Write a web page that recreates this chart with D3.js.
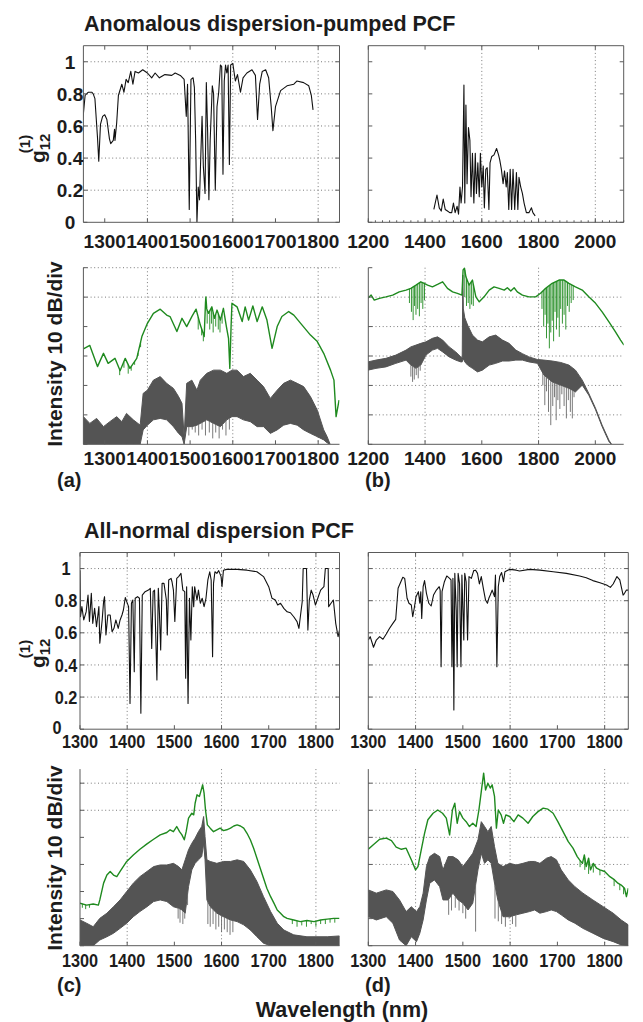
<!DOCTYPE html>
<html><head><meta charset="utf-8">
<script src="https://cdn.jsdelivr.net/npm/d3@7"></script>
<style>body{margin:0;background:#fff}</style>
</head><body><svg id="c" width="643" height="1022"></svg>
<script>
// ===================== DATA =====================
const titles = ["Anomalous dispersion-pumped PCF", "All-normal dispersion PCF"];
const panelLetters = ["(a)", "(b)", "(c)", "(d)"];
const yLabelSpec = "Intensity 10 dB/div";
const xLabel = "Wavelength (nm)";

const ticksA = [1300,1400,1500,1600,1700,1800];
const ticksB = [1200,1400,1600,1800,2000];
const ticksCD = [1300,1400,1500,1600,1700,1800];
const gTicks = [0,0.2,0.4,0.6,0.8,1];
const gTickLabels = ["0","0.2","0.4","0.6","0.8","1"];
const dbTicks = [-60,-50,-40,-30,-20,-10,0];

// g12 coherence, panel (a)
const gA = [[1248,0.62],[1254,0.79],[1261,0.81],[1270,0.81],[1273,0.80],[1277,0.77],[1283,0.53],[1286,0.38],[1290,0.61],[1295,0.66],[1300,0.67],[1305,0.64],[1311,0.52],[1314,0.49],[1320,0.51],[1323,0.58],[1324,0.51],[1328,0.62],[1332,0.79],[1340,0.86],[1345,0.81],[1350,0.89],[1355,0.87],[1361,0.94],[1366,0.86],[1371,0.94],[1379,0.93],[1389,0.95],[1400,0.93],[1410,0.90],[1418,0.93],[1428,0.90],[1441,0.92],[1457,0.915],[1465,0.93],[1477,0.915],[1486,0.89],[1491,0.66],[1494,0.86],[1498,0.08],[1502,0.89],[1507,0.90],[1510,0.84],[1513,0.51],[1516,0.0],[1519,0.22],[1522,0.14],[1525,0.41],[1528,0.66],[1531,0.35],[1535,0.18],[1538,0.87],[1541,0.57],[1544,0.14],[1547,0.51],[1552,0.85],[1555,0.80],[1559,0.20],[1563,0.72],[1567,0.81],[1571,0.98],[1574,0.97],[1577,0.30],[1580,0.88],[1583,0.98],[1586,0.93],[1589,0.98],[1592,0.36],[1595,0.98],[1600,0.99],[1606,0.88],[1611,0.92],[1618,0.81],[1624,0.90],[1633,0.93],[1645,0.95],[1653,0.915],[1658,0.64],[1663,0.86],[1669,0.94],[1677,0.95],[1684,0.90],[1690,0.72],[1694,0.57],[1700,0.72],[1712,0.82],[1727,0.85],[1743,0.86],[1750,0.88],[1766,0.87],[1778,0.85],[1784,0.79],[1788,0.70]];
// panel (b)
const gB = [[1431,0.08],[1442,0.17],[1450,0.09],[1457,0.07],[1464,0.145],[1471,0.08],[1479,0.07],[1487,0.06],[1494,0.06],[1500,0.12],[1506,0.06],[1513,0.10],[1518,0.05],[1523,0.22],[1527,0.12],[1532,0.22],[1537,0.855],[1540,0.12],[1544,0.73],[1548,0.24],[1553,0.59],[1558,0.51],[1562,0.16],[1567,0.43],[1572,0.12],[1577,0.43],[1581,0.18],[1586,0.37],[1591,0.16],[1595,0.43],[1600,0.22],[1605,0.35],[1609,0.09],[1614,0.33],[1619,0.34],[1625,0.08],[1629,0.37],[1635,0.41],[1643,0.42],[1652,0.46],[1659,0.42],[1663,0.39],[1669,0.33],[1675,0.24],[1680,0.32],[1686,0.22],[1690,0.31],[1695,0.08],[1700,0.33],[1705,0.08],[1710,0.33],[1716,0.08],[1722,0.31],[1727,0.08],[1731,0.28],[1737,0.22],[1743,0.18],[1749,0.12],[1757,0.06],[1766,0.06],[1775,0.09],[1780,0.06],[1788,0.04]];
// panel (c)
const gC = [[1300,0.99],[1301,0.70],[1304,0.763],[1308,0.68],[1313,0.73],[1317,0.835],[1320,0.67],[1324,0.846],[1327,0.659],[1331,0.752],[1335,0.638],[1340,0.763],[1342,0.535],[1347,0.68],[1350,0.794],[1352,0.825],[1355,0.586],[1359,0.711],[1364,0.711],[1368,0.607],[1372,0.628],[1376,0.68],[1381,0.628],[1385,0.68],[1389,0.711],[1392,0.742],[1396,0.82],[1399,0.794],[1403,0.763],[1406,0.16],[1409,0.784],[1412,0.804],[1415,0.358],[1417,0.815],[1422,0.825],[1426,0.815],[1429,0.10],[1432,0.835],[1438,0.856],[1445,0.866],[1449,0.877],[1452,0.503],[1455,0.856],[1458,0.866],[1463,0.306],[1466,0.877],[1468,0.752],[1471,0.493],[1474,0.908],[1478,0.908],[1483,0.804],[1485,0.586],[1488,0.929],[1493,0.939],[1495,0.918],[1498,0.866],[1501,0.67],[1505,0.939],[1509,0.95],[1514,0.97],[1518,0.866],[1522,0.856],[1524,0.317],[1526,0.887],[1529,0.16],[1532,0.815],[1535,0.555],[1538,0.887],[1541,0.763],[1543,0.887],[1548,0.804],[1551,0.866],[1555,0.784],[1559,0.815],[1563,0.763],[1567,0.815],[1571,0.929],[1575,0.98],[1578,0.929],[1581,0.451],[1583,0.908],[1586,0.98],[1590,0.97],[1594,0.987],[1599,0.95],[1601,0.887],[1604,0.99],[1611,0.995],[1633,0.995],[1654,0.99],[1675,0.98],[1689,0.95],[1700,0.887],[1707,0.815],[1714,0.804],[1719,0.773],[1725,0.784],[1732,0.752],[1739,0.731],[1746,0.725],[1753,0.70],[1760,0.67],[1764,0.628],[1767,0.70],[1771,0.794],[1773,1.0],[1780,1.0],[1783,0.617],[1786,0.804],[1790,0.866],[1794,0.835],[1799,0.773],[1804,0.815],[1810,0.866],[1817,0.887],[1820,1.0],[1826,1.0],[1827,0.763],[1832,0.784],[1837,0.804],[1842,0.659],[1847,0.576],[1850,0.617]];
// panel (d)
const gD = [[1300,0.555],[1304,0.576],[1311,0.51],[1317,0.555],[1324,0.576],[1331,0.56],[1338,0.593],[1345,0.628],[1352,0.659],[1358,0.684],[1363,0.877],[1368,0.912],[1373,0.946],[1377,0.939],[1382,0.815],[1386,0.784],[1391,0.773],[1394,0.70],[1397,0.75],[1401,0.825],[1406,0.856],[1409,0.784],[1411,0.856],[1413,0.69],[1416,0.887],[1419,0.925],[1423,0.846],[1428,0.784],[1433,0.767],[1438,0.835],[1444,0.866],[1450,0.887],[1452,0.866],[1454,0.389],[1456,0.856],[1461,0.918],[1466,0.954],[1472,0.939],[1475,0.929],[1477,0.389],[1479,0.939],[1481,0.12],[1483,0.97],[1486,0.742],[1488,0.389],[1490,0.97],[1493,0.908],[1496,0.389],[1498,0.96],[1502,0.555],[1504,0.97],[1507,0.918],[1510,0.555],[1513,0.95],[1518,0.939],[1523,0.987],[1527,0.99],[1531,0.97],[1535,0.904],[1539,0.95],[1544,0.866],[1548,0.804],[1552,0.784],[1555,0.815],[1558,0.835],[1562,0.866],[1567,0.825],[1569,0.96],[1572,0.389],[1575,0.887],[1578,0.95],[1582,0.975],[1586,0.918],[1589,0.98],[1595,0.99],[1600,0.995],[1613,0.99],[1620,0.985],[1641,0.995],[1663,0.99],[1691,0.98],[1719,0.97],[1747,0.954],[1761,0.943],[1775,0.925],[1790,0.912],[1804,0.898],[1812,0.883],[1818,0.904],[1826,0.95],[1832,0.929],[1839,0.835],[1842,0.846],[1846,0.866],[1850,0.866]];

// spectra (dB): green = [nm, dB]; gray = [nm, upper dB, lower dB]; spikes = [nm, dB reached]
const aGreen = [[1250,-27.6],[1265,-26.4],[1283,-33.6],[1297,-29.1],[1308,-32.5],[1324,-30.8],[1336,-35.0],[1348,-30.8],[1359,-34.2],[1375,-30.8],[1387,-23.4],[1400,-18.9],[1414,-15.5],[1430,-14.1],[1445,-16.1],[1453,-16.6],[1469,-21.7],[1481,-17.2],[1492,-20.0],[1504,-16.6],[1514,-14.1],[1524,-19.5],[1533,-23.4],[1536,-12],[1537,-9.9],[1539,-14],[1543,-15.5],[1551,-13.3],[1557,-17.2],[1563,-14.4],[1571,-17.8],[1578,-13.8],[1585,-20.0],[1590,-24],[1593,-34.2],[1596,-20],[1598,-12.1],[1610,-13.3],[1622,-18.3],[1629,-13.3],[1637,-17.8],[1647,-13.0],[1657,-18.3],[1669,-13.3],[1680,-17.8],[1692,-27.4],[1704,-20.0],[1715,-16.6],[1731,-14.9],[1743,-16.1],[1759,-18.9],[1782,-22.9],[1798,-25.1],[1813,-29.1],[1829,-34.8],[1837,-38.2],[1842,-50.6],[1849,-45.0]];
const aGreenSpikes = [[1335,-36.5],[1345,-34],[1355,-36],[1362,-35],[1370,-33],[1378,-30],[1384,-27],[1519,-21],[1527,-23],[1531,-25],[1540,-19],[1546,-21],[1550,-19],[1554,-22],[1560,-20],[1566,-21],[1570,-22],[1575,-19]];
const aGray = [[1250,-50.6,-60],[1265,-52.9,-60],[1281,-51.2,-60],[1297,-54.0,-60],[1312,-52.3,-60],[1328,-50.6,-60],[1340,-52.3,-60],[1351,-49.5,-60],[1367,-51.7,-60],[1383,-53.5,-60],[1390,-42.7,-55.1],[1400,-41.6,-53.5],[1414,-38.2,-51.7],[1430,-37.0,-51.2],[1445,-39.3,-51.7],[1461,-41.0,-54.0],[1473,-43.8,-56.3],[1481,-46.1,-57.4],[1486,-57.4,-60],[1492,-39.3,-54.0],[1504,-38.2,-54.0],[1516,-41.6,-53.5],[1524,-38.2,-52.9],[1539,-35.9,-51.7],[1555,-34.8,-52.9],[1571,-34.8,-54.0],[1586,-35.9,-51.7],[1598,-34.8,-50.6],[1610,-34.8,-50.6],[1625,-37.0,-51.7],[1641,-35.9,-52.3],[1657,-38.2,-54.0],[1672,-40.4,-54.0],[1688,-44.4,-56.3],[1704,-41.6,-55.1],[1719,-39.3,-53.5],[1735,-38.2,-52.9],[1751,-39.3,-53.5],[1766,-40.4,-55.1],[1782,-43.8,-56.3],[1798,-48.4,-57.4],[1813,-55.1,-58.5],[1821,-57.4,-59.5],[1828,-60,-60]];
const aGraySpikes = [[1497,-57],[1505,-55],[1512,-56],[1520,-57],[1528,-55],[1536,-57],[1545,-56],[1553,-58],[1560,-56],[1568,-58],[1576,-55],[1584,-57],[1592,-55]];

const bGreen = [[1199,-10.4],[1210,-9.3],[1221,-11.0],[1239,-10.4],[1262,-9.9],[1286,-9.3],[1309,-8.2],[1333,-7.6],[1350,-7.0],[1368,-5.9],[1385,-4.8],[1397,-5.3],[1409,-5.9],[1426,-6.5],[1444,-5.7],[1462,-4.8],[1479,-7.0],[1497,-8.2],[1514,-8.7],[1530,-9.3],[1534,-0.8],[1539,-0.2],[1544,-3.1],[1555,-5.9],[1567,-4.2],[1579,-9.9],[1591,-11.6],[1608,-9.9],[1626,-7.6],[1643,-6.5],[1661,-7.0],[1679,-7.6],[1690,-6.8],[1702,-7.9],[1714,-6.8],[1725,-8.2],[1743,-9.3],[1766,-9.9],[1790,-9.9],[1807,-8.7],[1825,-7.0],[1848,-5.3],[1872,-4.2],[1890,-4.2],[1907,-5.3],[1930,-6.5],[1954,-7.6],[1977,-9.9],[2001,-12.1],[2024,-15.0],[2048,-18.4],[2071,-21.8],[2089,-24.6],[2101,-26.3]];
const bGreenSpikes = [[1345,-12],[1352,-15],[1358,-17.8],[1363,-13],[1368,-16],[1374,-14],[1380,-16.5],[1386,-12],[1392,-14],[1398,-11],[1540,-10],[1546,-13],[1552,-12],[1558,-14],[1564,-12.5],[1570,-13],[1812,-14],[1818,-20],[1823,-16],[1828,-24],[1833,-19],[1838,-27.4],[1843,-22],[1848,-18],[1853,-25],[1858,-15],[1863,-21],[1868,-17],[1873,-23.5],[1878,-14],[1884,-19],[1890,-16],[1896,-21],[1902,-13],[1908,-15],[1915,-12],[1922,-11]];
const bGray = [[1199,-32.0,-34.8],[1227,-31.4,-34.2],[1262,-30.8,-33.7],[1297,-29.7,-32.5],[1333,-28.0,-31.4],[1350,-26.9,-33.1],[1368,-26.3,-34.2],[1385,-25.7,-33.1],[1403,-25.2,-29.7],[1426,-24.0,-28.0],[1444,-23.5,-27.4],[1462,-24.6,-28.6],[1485,-26.9,-30.3],[1508,-28.6,-31.4],[1526,-30.3,-32.0],[1531,-30.5,-32],[1533,-2.5,-31],[1535,-14,-31],[1540,-17,-32],[1550,-19.5,-33.1],[1567,-22.9,-34.2],[1585,-24.6,-35.4],[1602,-25.2,-34.8],[1626,-23.5,-33.1],[1649,-22.9,-32.5],[1673,-24.6,-31.7],[1696,-25.7,-31.7],[1720,-28.0,-31.4],[1743,-29.2,-31.4],[1766,-30.3,-32.0],[1796,-31.2,-32.5],[1819,-31.4,-36.5],[1848,-31.7,-38.8],[1878,-32.2,-39.9],[1907,-33.1,-41.0],[1930,-34.8,-42.2],[1954,-38.2,-39.9],[1977,-42.7,-43.3],[2001,-47.8,-48.3],[2024,-53.5,-54],[2048,-58.6,-59.1],[2057,-60,-60]];
const bGraySpikes = [[1350,-37],[1356,-38.8],[1362,-38],[1369,-36.5],[1376,-37.6],[1383,-35],[1815,-40],[1822,-46.7],[1828,-42],[1835,-49],[1843,-53.5],[1850,-47],[1856,-44],[1862,-51.8],[1868,-45],[1875,-48],[1882,-43],[1890,-47],[1898,-51.2],[1905,-45],[1912,-49],[1919,-51.2],[1925,-44]];

const cGreen = [[1300,-44.3],[1314,-45.0],[1328,-44.6],[1339,-45.0],[1342,-43.1],[1350,-36.9],[1357,-33.9],[1364,-32.6],[1371,-33.9],[1378,-34.5],[1385,-32.6],[1399,-28.9],[1413,-26.5],[1427,-24.4],[1442,-22.4],[1456,-20.7],[1470,-19.1],[1484,-18.2],[1491,-17.2],[1498,-17.9],[1505,-16.0],[1511,-17.9],[1516,-19.1],[1521,-20.9],[1525,-17.9],[1530,-12.9],[1537,-11.1],[1541,-11.7],[1544,-7.4],[1548,-4.3],[1553,-4.9],[1556,-3.1],[1560,-0.6],[1563,-3.7],[1566,-9.9],[1570,-15.4],[1576,-16.6],[1583,-17.9],[1590,-17.2],[1597,-16.6],[1604,-17.5],[1611,-17.2],[1619,-16.6],[1626,-15.8],[1633,-15.4],[1640,-15.8],[1647,-16.6],[1654,-18.5],[1661,-20.9],[1668,-24.0],[1675,-27.7],[1682,-31.4],[1689,-35.1],[1696,-38.8],[1704,-41.9],[1711,-44.3],[1718,-46.8],[1725,-48.0],[1732,-49.3],[1739,-49.9],[1753,-50.5],[1767,-51.1],[1781,-50.7],[1796,-51.1],[1810,-50.5],[1824,-50.2],[1838,-49.9],[1850,-49.9]];
const cGreenSpikes = [[1305,-46],[1312,-46.5],[1320,-46],[1750,-52],[1760,-53],[1770,-52.5],[1780,-53],[1790,-52],[1800,-53],[1810,-52],[1820,-52],[1830,-51.5],[1840,-51.5]];
const cGray = [[1300,-50.5,-60],[1314,-51.7,-60],[1328,-53.0,-60],[1342,-49.9,-57.9],[1357,-48.0,-56.7],[1371,-45.6,-55.4],[1385,-43.1,-53.6],[1399,-40.0,-51.7],[1413,-36.9,-49.3],[1427,-34.5,-47.4],[1442,-32.6,-45.6],[1456,-30.8,-43.7],[1470,-30.2,-43.1],[1484,-30.2,-43.7],[1498,-29.6,-45.6],[1509,-30.8,-46.2],[1516,-32.0,-46.8],[1523,-28.3,-48.0],[1530,-24.6,-38.2],[1537,-22.2,-32.0],[1544,-20.3,-29.6],[1551,-17.9,-28.3],[1558,-16.0,-27.1],[1562,-12.3,-22.2],[1565,-19.7,-28.3],[1569,-28.3,-43.1],[1576,-28.9,-45.6],[1590,-29.6,-48.0],[1604,-28.9,-49.3],[1619,-28.9,-50.5],[1633,-28.3,-51.1],[1647,-28.9,-52.3],[1661,-32.0,-54.2],[1675,-36.3,-56.7],[1689,-41.9,-59.1],[1704,-47.4,-60],[1718,-51.7,-60],[1732,-54.2,-60],[1753,-56.0,-60],[1781,-56.7,-60],[1824,-56.7,-60],[1850,-56.4,-60]];
const cGraySpikes = [[1508,-50],[1512,-51.5],[1518,-52],[1522,-50],[1528,-45],[1571,-52],[1576,-53],[1582,-52],[1588,-54],[1594,-53],[1600,-55],[1606,-54],[1612,-55],[1618,-56],[1624,-55]];

const dGreen = [[1300,-24.4],[1310,-22.8],[1324,-20.7],[1338,-20.3],[1349,-21.2],[1359,-23.6],[1370,-24.4],[1380,-24.0],[1391,-28.3],[1400,-32.0],[1405,-30.8],[1412,-24.6],[1419,-18.5],[1426,-13.5],[1437,-11.1],[1447,-9.9],[1457,-11.1],[1465,-12.9],[1472,-19.1],[1478,-9.9],[1483,-7.4],[1488,-14.8],[1493,-10.5],[1500,-12.9],[1507,-14.2],[1514,-16.0],[1521,-14.8],[1528,-16.0],[1534,-9.9],[1539,-3.1],[1544,3.7],[1548,-2.5],[1553,0],[1558,-1.8],[1562,-0.6],[1567,-4.9],[1571,-16.6],[1575,-9.9],[1581,-11.7],[1586,-14.8],[1591,-11.7],[1599,-12.3],[1608,-14.2],[1617,-11.7],[1627,-12.9],[1638,-14.8],[1648,-12.3],[1659,-10.5],[1670,-9.2],[1680,-9.6],[1691,-11.1],[1701,-14.2],[1712,-17.9],[1723,-21.6],[1733,-24.0],[1742,-27.1],[1747,-28.3],[1753,-29.6],[1757,-26.5],[1761,-30.8],[1766,-27.7],[1770,-32.0],[1776,-29.6],[1783,-31.4],[1790,-32.0],[1800,-32.6],[1811,-34.5],[1821,-35.7],[1828,-36.9],[1835,-37.6],[1842,-38.8],[1846,-41.9],[1850,-38.8]];
const dGreenSpikes = [[1748,-31],[1758,-32],[1766,-33.5],[1776,-33],[1790,-34],[1820,-38],[1832,-39.5],[1840,-41]];
const dGray = [[1300,-39.4,-49.3],[1317,-40.6,-50.5],[1338,-39.4,-49.3],[1352,-40.0,-51.7],[1366,-43.1,-57.9],[1380,-47.4,-60],[1391,-45.6,-56.7],[1402,-47.4,-58.5],[1409,-45.6,-55.4],[1416,-40.6,-50.5],[1423,-30.8,-43.1],[1430,-27.1,-36.9],[1440,-25.9,-35.7],[1451,-27.1,-38.2],[1458,-32.0,-43.1],[1469,-27.1,-43.1],[1479,-27.1,-40.6],[1490,-28.3,-43.1],[1500,-30.8,-44.3],[1511,-28.3,-46.8],[1521,-25.9,-44.3],[1532,-20.9,-32.0],[1539,-14.2,-25.9],[1546,-16.0,-29.6],[1553,-17.9,-28.3],[1560,-16.0,-29.6],[1567,-23.4,-36.9],[1574,-29.6,-43.1],[1585,-30.8,-49.3],[1599,-29.6,-49.3],[1613,-30.2,-48.6],[1627,-29.6,-48.0],[1641,-28.9,-47.4],[1652,-28.9,-46.8],[1663,-29.6,-48.0],[1677,-27.7,-47.4],[1687,-27.1,-46.8],[1698,-28.3,-47.4],[1708,-32.0,-48.6],[1723,-35.7,-50.5],[1737,-38.2,-51.7],[1754,-40.6,-53.6],[1775,-43.1,-55.4],[1797,-45.6,-57.3],[1818,-48.0,-58.5],[1835,-50.5,-59.7],[1850,-52.3,-60]];
const dGraySpikes = [[1470,-48.6],[1476,-47],[1484,-46],[1492,-47],[1500,-48],[1506,-50],[1527,-54.8],[1568,-50],[1575,-51],[1582,-52],[1590,-53],[1598,-50],[1605,-52],[1612,-53]];

// ===================== DRAWING =====================
const FONT = "'Liberation Sans', Arial, Helvetica, sans-serif";
const TXT = "#1c1c1c";
const AX = "#5a5a5a";
const GRID = "#7a7a7a";
const GREEN = "#1f8a1f";
const GRAY = "#545454";
const svg = d3.select("#c");
let clipN = 0;

function interp(arr, nm, idx) {
  const bis = d3.bisector(d => d[0]).left;
  let i = bis(arr, nm);
  if (i <= 0) return arr[0][idx];
  if (i >= arr.length) return arr[arr.length-1][idx];
  const a = arr[i-1], b = arr[i];
  const t = (nm - a[0]) / (b[0] - a[0]);
  return a[idx] + t * (b[idx] - a[idx]);
}

function squeeze(sel, f) {
  sel.each(function(){ const L = this.getComputedTextLength(); d3.select(this).attr("textLength", L*f).attr("lengthAdjust","spacingAndGlyphs"); });
}

function panel(cfg) {
  const r = cfg.rect;
  const x = d3.scaleLinear().domain(cfg.xdom).range([r.x0, r.x1]);
  const y = d3.scaleLinear().domain(cfg.ydom).range([r.y1, r.y0]);
  const g = svg.append("g");
  const id = "clip" + (clipN++);
  svg.append("clipPath").attr("id", id).append("rect")
    .attr("x", r.x0).attr("y", r.y0 - 6).attr("width", r.x1 - r.x0).attr("height", r.y1 - r.y0 + 6);
  g.selectAll(".vg").data(cfg.vgrid || []).join("line")
    .attr("x1", d => x(d)).attr("x2", d => x(d)).attr("y1", r.y0).attr("y2", r.y1)
    .attr("stroke", GRID).attr("stroke-width", 1).attr("stroke-dasharray", "1,2.6");
  g.selectAll(".hg").data(cfg.hgrid || []).join("line")
    .attr("x1", r.x0).attr("x2", r.x1).attr("y1", d => y(d)).attr("y2", d => y(d))
    .attr("stroke", GRID).attr("stroke-width", 1).attr("stroke-dasharray", "1,2.6");
  const dg = g.append("g").attr("clip-path", `url(#${id})`);
  cfg.draw(dg, x, y);
  const ax = g.append("g").attr("fill", "none").attr("stroke", AX).attr("stroke-width", 1);
  ax.append("line").attr("x1", r.x0).attr("x2", r.x1).attr("y1", r.y1).attr("y2", r.y1);
  ax.append("line").attr("x1", r.x0).attr("x2", r.x0).attr("y1", r.y0).attr("y2", r.y1);
  if (cfg.box) {
    ax.append("line").attr("x1", r.x0).attr("x2", r.x1).attr("y1", r.y0).attr("y2", r.y0);
    ax.append("line").attr("x1", r.x1).attr("x2", r.x1).attr("y1", r.y0).attr("y2", r.y1);
  }
  const tl = 4;
  cfg.xticks.forEach(v => {
    ax.append("line").attr("x1", x(v)).attr("x2", x(v)).attr("y1", r.y1).attr("y2", r.y1 - tl);
    if (cfg.box) ax.append("line").attr("x1", x(v)).attr("x2", x(v)).attr("y1", r.y0).attr("y2", r.y0 + tl);
  });
  (cfg.minor || []).forEach(v => {
    ax.append("line").attr("x1", x(v)).attr("x2", x(v)).attr("y1", r.y1).attr("y2", r.y1 - 2);
  });
  cfg.yticks.forEach(v => {
    ax.append("line").attr("x1", r.x0).attr("x2", r.x0 + tl).attr("y1", y(v)).attr("y2", y(v));
    if (cfg.box) ax.append("line").attr("x1", r.x1).attr("x2", r.x1 - tl).attr("y1", y(v)).attr("y2", y(v));
  });
  const xl = g.selectAll(".xl").data(cfg.xticks).join("text")
    .attr("x", d => x(d)).attr("y", r.y1 + cfg.labOff)
    .attr("text-anchor", "middle").attr("font-family", FONT).attr("font-weight", "bold")
    .attr("font-size", cfg.fs).attr("fill", TXT).text(d => d);
  if (cfg.sq) squeeze(xl, cfg.sq);
  if (cfg.ylabels) {
    const yl = g.selectAll(".yl").data(cfg.yticks).join("text")
      .attr("x", d => cfg.ylabX - (d === 0 ? (cfg.zeroShift || 0) : 0))
      .attr("y", d => y(d) - (d === 0 ? (cfg.zeroLift || 0) : 0)).attr("dy", "0.36em")
      .attr("text-anchor", "middle").attr("font-family", FONT).attr("font-weight", "bold")
      .attr("font-size", cfg.fs).attr("fill", TXT).text((d, i) => cfg.ylabels[i]);
    if (cfg.sq) squeeze(yl, cfg.sq);
  }
  return {x, y};
}

const gLine = arr => (dg, x, y) => {
  dg.append("path").datum(arr)
    .attr("d", d3.line().x(d => x(d[0])).y(d => y(d[1])))
    .attr("fill", "none").attr("stroke", "#111").attr("stroke-width", 1.1).attr("stroke-linejoin", "round");
};

const spec = (green, greenSpikes, gray, graySpikes) => (dg, x, y) => {
  const area = d3.area().x(d => x(d[0])).y0(d => y(d[2])).y1(d => y(d[1]));
  dg.append("path").datum(gray).attr("d", area)
    .attr("fill", GRAY).attr("stroke", GRAY).attr("stroke-width", 1);
  dg.selectAll(".gs").data(graySpikes).join("line")
    .attr("x1", d => x(d[0])).attr("x2", d => x(d[0]))
    .attr("y1", d => y(interp(gray, d[0], 2))).attr("y2", d => y(d[1]))
    .attr("stroke", "#6a6a6a").attr("stroke-width", 0.9);
  dg.selectAll(".ks").data(greenSpikes).join("line")
    .attr("x1", d => x(d[0])).attr("x2", d => x(d[0]))
    .attr("y1", d => y(interp(green, d[0], 1))).attr("y2", d => y(d[1]))
    .attr("stroke", GREEN).attr("stroke-width", 0.9);
  dg.append("path").datum(green)
    .attr("d", d3.line().x(d => x(d[0])).y(d => y(d[1])))
    .attr("fill", "none").attr("stroke", GREEN).attr("stroke-width", 1.4).attr("stroke-linejoin", "round");
};

const d3range = (a, b, s) => d3.range(a, b + 1e-9, s);

const RA = {x0: 83.4, x1: 339.5}, RB = {x0: 368.3, x1: 623.7};
const T1 = {y0: 45.7, y1: 222.3}, S1 = {y0: 267.7, y1: 444.3};
const RC = {x0: 80, x1: 339.5}, RD = {x0: 368.3, x1: 628.3};
const T2 = {y0: 552.5, y1: 729.2}, S2 = {y0: 769.1, y1: 945.7};

panel({rect: {...RA, ...T1}, xdom: [1250, 1850], ydom: [0, 1.1], box: true,
  xticks: ticksA, yticks: gTicks, vgrid: [1400, 1600, 1800], hgrid: [0.2, 0.4, 0.6, 0.8, 1],
  ylabels: gTickLabels, ylabX: 70, fs: 19, labOff: 25.5, draw: gLine(gA)});
panel({rect: {...RB, ...T1}, xdom: [1200, 2100], ydom: [0, 1.1], box: true,
  xticks: ticksB, yticks: gTicks, vgrid: [1600, 2000], hgrid: [], minor: d3range(1200, 2100, 25),
  fs: 19, labOff: 25.5, draw: gLine(gB)});
panel({rect: {...RA, ...S1}, xdom: [1250, 1850], ydom: [-60, 0], box: false,
  xticks: ticksA, yticks: dbTicks, vgrid: [1400, 1600, 1800], hgrid: [0, -10],
  fs: 19, labOff: 21, draw: spec(aGreen, aGreenSpikes, aGray, aGraySpikes)});
panel({rect: {...RB, ...S1}, xdom: [1200, 2100], ydom: [-60, 0], box: false,
  xticks: ticksB, yticks: dbTicks, vgrid: [1400, 1800], hgrid: [-10, -20, -30, -40, -50],
  fs: 19, labOff: 21, draw: spec(bGreen, bGreenSpikes, bGray, bGraySpikes)});
panel({rect: {...RC, ...T2}, xdom: [1300, 1850], ydom: [0, 1.1], box: true,
  xticks: ticksCD, yticks: gTicks, vgrid: [1400, 1600, 1800], hgrid: [0.2, 0.4, 0.6, 0.8, 1],
  ylabels: gTickLabels, ylabX: 66, zeroShift: 9, zeroLift: 2, fs: 18.5, sq: 0.88, labOff: 19, draw: gLine(gC)});
panel({rect: {...RD, ...T2}, xdom: [1300, 1850], ydom: [0, 1.1], box: true,
  xticks: ticksCD, yticks: gTicks, vgrid: [1400, 1600, 1800], hgrid: [0.2, 0.4, 0.6, 0.8, 1],
  fs: 18.5, sq: 0.88, labOff: 19, draw: gLine(gD)});
panel({rect: {...RC, ...S2}, xdom: [1300, 1850], ydom: [-60, 5.2], box: false,
  xticks: ticksCD, yticks: dbTicks, vgrid: [1400, 1600, 1800], hgrid: [0, -10],
  fs: 18.5, sq: 0.88, labOff: 21, draw: spec(cGreen, cGreenSpikes, cGray, cGraySpikes)});
panel({rect: {...RD, ...S2}, xdom: [1300, 1850], ydom: [-60, 5.2], box: false,
  xticks: ticksCD, yticks: dbTicks, vgrid: [1400, 1600, 1800], hgrid: [0, -10, -20, -30],
  fs: 18.5, sq: 0.88, labOff: 21, draw: spec(dGreen, dGreenSpikes, dGray, dGraySpikes)});

function txt(x, y, s, fs, anchor) {
  return svg.append("text").attr("x", x).attr("y", y).attr("font-family", FONT)
    .attr("font-weight", "bold").attr("font-size", fs).attr("fill", TXT)
    .attr("text-anchor", anchor || "start").text(s);
}
txt(84, 30.5, titles[0], 21.5);
txt(84, 538, titles[1], 21.5);
txt(57, 487, panelLetters[0], 20);
txt(365, 487, panelLetters[1], 20);
txt(57, 992, panelLetters[2], 20);
txt(365, 992, panelLetters[3], 20);
txt(342, 1017, xLabel, 21.5, "middle");

function vlabel(cx, cy, s) {
  svg.append("text").attr("transform", `translate(${cx},${cy}) rotate(-90)`)
    .attr("font-family", FONT).attr("font-weight", "bold").attr("font-size", 21)
    .attr("fill", TXT).attr("text-anchor", "middle").text(s);
}
vlabel(62, 354, yLabelSpec);
vlabel(62, 858, yLabelSpec);

function gLabel(bx, by) {
  const gg = svg.append("g").attr("transform", `translate(${bx},${by}) rotate(-90)`)
    .attr("font-family", FONT).attr("font-weight", "bold").attr("fill", TXT);
  gg.append("text").attr("x", 0).attr("y", 0).attr("font-size", 21).text("g");
  gg.append("text").attr("x", 21).attr("y", 5).attr("font-size", 15).attr("text-anchor", "middle").text("12");
  gg.append("text").attr("x", 19).attr("y", -15).attr("font-size", 15).attr("text-anchor", "middle").text("(1)");
}
gLabel(45, 163);
gLabel(45, 668);
</script></body></html>
